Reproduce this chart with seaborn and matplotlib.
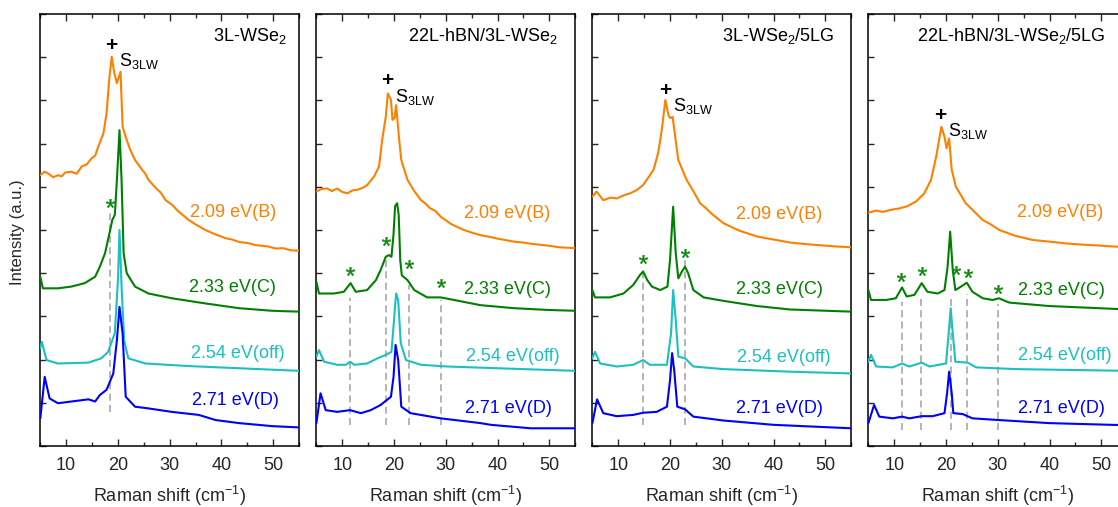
import matplotlib
matplotlib.use("Agg")
import matplotlib.pyplot as plt
import numpy as np
import pandas as pd
import seaborn as sns
from matplotlib.ticker import MultipleLocator

sns.set_style("ticks")
plt.rcParams["font.family"] = ["Liberation Sans", "DejaVu Sans"]
plt.rcParams["mathtext.default"] = "regular"

# ---------------- data ----------------
panel_titles = ["3L-WSe$_2$", "22L-hBN/3L-WSe$_2$", "3L-WSe$_2$/5LG", "22L-hBN/3L-WSe$_2$/5LG"]
series_labels = ["2.09 eV(B)", "2.33 eV(C)", "2.54 eV(off)", "2.71 eV(D)"]
peak_label = "S$_{3LW}$"
x_ticks = [10, 20, 30, 40, 50]

# panel 1 : 3L-WSe2
p1_B_x = [5.0, 5.8, 6.5, 7.5, 8.4, 9.1, 9.8, 11.0, 12.0, 13.0, 14.0, 14.9, 15.6, 16.2, 17.2, 17.8, 18.3, 18.8, 19.3, 19.8, 20.5, 20.9, 21.7, 22.4, 23.3, 24.5, 25.3, 25.9, 27.5, 28.3, 29.2, 30.5, 31.5, 33.7, 35.0, 36.9, 38.8, 40.8, 42.0, 43.5, 45.0, 46.6, 49.0, 50.5, 51.8, 53.5, 55.0]
p1_B_y = [6.27, 6.35, 6.31, 6.22, 6.27, 6.24, 6.33, 6.35, 6.30, 6.47, 6.52, 6.66, 6.72, 6.93, 7.24, 7.70, 8.47, 9.01, 8.63, 8.40, 8.66, 7.39, 7.08, 6.85, 6.62, 6.42, 6.30, 6.16, 5.95, 5.86, 5.69, 5.58, 5.45, 5.23, 5.13, 5.00, 4.90, 4.81, 4.78, 4.72, 4.70, 4.65, 4.62, 4.57, 4.58, 4.53, 4.52]
p1_C_x = [5.0, 5.5, 8.4, 11.0, 13.6, 15.6, 16.5, 17.5, 18.5, 18.9, 19.4, 19.8, 20.3, 20.7, 21.1, 21.7, 23.3, 25.9, 30.4, 36.9, 43.4, 49.8, 55.0]
p1_C_y = [3.92, 3.65, 3.65, 3.69, 3.77, 3.92, 4.15, 4.46, 5.00, 5.23, 5.35, 6.16, 7.31, 6.16, 4.46, 4.00, 3.69, 3.53, 3.42, 3.30, 3.19, 3.13, 3.11]
p1_off_x = [5.0, 5.3, 6.2, 8.4, 14.3, 16.8, 18.1, 19.4, 20.0, 20.3, 20.7, 21.2, 22.0, 25.3, 33.7, 43.4, 55.0]
p1_off_y = [2.26, 2.41, 1.99, 1.91, 1.93, 2.03, 2.18, 2.61, 3.84, 5.00, 3.69, 2.45, 2.03, 1.91, 1.85, 1.80, 1.74]
p1_D_x = [5.0, 5.85, 6.8, 8.4, 11.0, 14.3, 15.6, 16.5, 17.8, 19.1, 19.8, 20.3, 20.9, 21.5, 23.3, 25.9, 30.4, 35.6, 38.9, 43.4, 49.8, 55.0]
p1_D_y = [0.64, 1.60, 1.10, 0.99, 1.03, 1.08, 1.03, 1.18, 1.30, 1.68, 2.45, 3.22, 2.61, 1.14, 0.91, 0.87, 0.79, 0.72, 0.60, 0.53, 0.46, 0.43]

# panel 2 : 22L-hBN/3L-WSe2
p2_B_x = [5.0, 6.0, 7.1, 8.0, 9.0, 10.0, 11.0, 12.0, 12.9, 14.0, 14.8, 16.1, 17.1, 17.7, 18.4, 18.8, 19.4, 19.7, 20.1, 20.4, 21.0, 21.4, 22.6, 23.8, 25.2, 26.0, 27.0, 28.0, 29.0, 31.0, 32.2, 33.5, 35.0, 36.7, 38.5, 40.0, 43.2, 45.0, 46.5, 49.6, 52.0, 55.0]
p2_B_y = [5.89, 5.95, 5.96, 5.90, 5.96, 5.88, 5.85, 5.92, 5.93, 5.98, 6.04, 6.23, 6.47, 7.08, 7.62, 8.16, 8.01, 7.55, 7.59, 7.89, 7.08, 6.62, 6.16, 5.92, 5.69, 5.62, 5.50, 5.44, 5.31, 5.14, 5.07, 5.00, 4.94, 4.88, 4.84, 4.80, 4.73, 4.71, 4.68, 4.64, 4.60, 4.58]
p2_C_x = [5.0, 5.5, 8.4, 10.3, 11.6, 12.6, 14.8, 16.5, 17.4, 18.4, 19.0, 19.5, 19.9, 20.2, 20.6, 20.9, 21.2, 21.5, 22.6, 23.9, 26.4, 29.0, 31.6, 36.7, 43.2, 49.6, 55.0]
p2_C_y = [3.80, 3.53, 3.53, 3.57, 3.77, 3.57, 3.61, 3.84, 4.07, 4.38, 4.42, 4.38, 4.90, 5.55, 5.62, 5.35, 4.30, 3.95, 3.84, 3.61, 3.44, 3.44, 3.38, 3.26, 3.19, 3.15, 3.13]
p2_off_x = [5.0, 5.5, 6.5, 9.0, 10.7, 11.5, 12.3, 14.8, 16.8, 18.4, 19.5, 20.0, 20.4, 20.8, 21.3, 22.3, 25.2, 30.3, 40.0, 55.0]
p2_off_y = [2.07, 2.22, 1.95, 1.88, 1.88, 1.95, 1.88, 1.91, 2.03, 2.11, 2.18, 2.92, 3.53, 3.38, 2.38, 1.99, 1.88, 1.84, 1.80, 1.74]
p2_D_x = [5.0, 5.8, 6.8, 9.0, 11.5, 13.6, 15.5, 17.4, 19.4, 19.9, 20.3, 20.8, 21.4, 23.2, 29.0, 36.7, 38.7, 46.4, 55.0]
p2_D_y = [0.53, 1.22, 0.83, 0.79, 0.83, 0.76, 0.83, 0.95, 1.14, 1.60, 2.34, 1.99, 0.91, 0.76, 0.64, 0.53, 0.49, 0.41, 0.41]

# panel 3 : 3L-WSe2/5LG
p3_B_x = [5.0, 5.8, 7.1, 8.5, 9.7, 11.0, 12.3, 13.5, 14.8, 16.8, 17.7, 18.4, 19.1, 19.7, 20.0, 20.5, 21.0, 21.6, 23.2, 24.5, 25.8, 27.0, 28.0, 30.3, 32.0, 33.5, 36.8, 38.5, 40.0, 43.2, 46.5, 49.7, 52.0, 55.0]
p3_B_y = [5.77, 5.89, 5.69, 5.75, 5.73, 5.80, 5.85, 5.92, 6.04, 6.39, 6.78, 7.31, 8.01, 7.66, 7.59, 7.62, 7.16, 6.62, 6.16, 5.90, 5.62, 5.50, 5.38, 5.16, 5.06, 4.98, 4.85, 4.81, 4.78, 4.71, 4.67, 4.64, 4.62, 4.60]
p3_C_x = [5.0, 5.5, 8.4, 11.0, 12.9, 14.2, 14.8, 15.6, 16.5, 18.1, 19.5, 20.0, 20.6, 21.1, 21.6, 22.3, 22.9, 23.5, 24.5, 26.5, 30.3, 36.8, 43.2, 55.0]
p3_C_y = [3.61, 3.44, 3.44, 3.53, 3.73, 3.96, 4.04, 3.84, 3.69, 3.61, 3.69, 4.31, 5.54, 4.46, 3.88, 4.04, 4.15, 4.00, 3.61, 3.44, 3.36, 3.24, 3.16, 3.11]
p3_off_x = [5.0, 5.5, 6.5, 9.7, 12.9, 14.8, 16.1, 19.4, 20.2, 20.6, 21.1, 21.6, 22.9, 24.5, 30.3, 43.2, 55.0]
p3_off_y = [2.03, 2.18, 1.91, 1.84, 1.88, 1.99, 1.88, 1.88, 2.61, 3.61, 2.92, 2.07, 2.03, 1.84, 1.78, 1.72, 1.68]
p3_D_x = [5.0, 5.9, 7.1, 9.7, 12.9, 14.8, 17.4, 19.4, 20.0, 20.4, 20.8, 21.4, 22.9, 24.5, 30.3, 40.0, 55.0]
p3_D_y = [0.53, 1.08, 0.76, 0.69, 0.72, 0.77, 0.79, 0.91, 1.53, 2.15, 1.76, 0.91, 0.85, 0.68, 0.59, 0.49, 0.41]

# panel 4 : 22L-hBN/3L-WSe2/5LG
p4_B_x = [5.0, 6.5, 7.8, 9.5, 11.0, 12.5, 14.2, 15.8, 17.1, 18.1, 19.1, 19.7, 20.1, 20.6, 21.1, 21.9, 23.0, 23.8, 25.5, 27.1, 28.5, 30.3, 33.5, 35.0, 36.7, 40.0, 43.1, 46.5, 49.6, 52.0, 55.0]
p4_B_y = [5.40, 5.45, 5.42, 5.47, 5.50, 5.55, 5.66, 5.85, 6.16, 6.70, 7.39, 7.16, 6.89, 7.12, 6.39, 6.00, 5.78, 5.62, 5.42, 5.23, 5.14, 5.00, 4.86, 4.82, 4.77, 4.73, 4.69, 4.66, 4.64, 4.62, 4.60]
p4_C_x = [5.0, 5.5, 8.4, 10.3, 11.5, 12.4, 13.9, 15.3, 16.4, 18.4, 19.7, 20.3, 20.8, 21.3, 21.8, 22.9, 24.0, 25.1, 27.1, 29.0, 30.2, 32.2, 39.9, 49.6, 55.0]
p4_C_y = [3.61, 3.38, 3.38, 3.42, 3.67, 3.46, 3.50, 3.77, 3.57, 3.53, 3.61, 4.15, 4.96, 4.07, 3.61, 3.69, 3.78, 3.57, 3.42, 3.38, 3.42, 3.32, 3.24, 3.19, 3.16]
p4_off_x = [5.0, 5.5, 6.5, 9.7, 11.5, 12.9, 15.3, 16.8, 20.0, 20.5, 20.9, 21.3, 21.8, 24.2, 25.8, 33.5, 55.0]
p4_off_y = [1.95, 2.11, 1.84, 1.82, 1.91, 1.84, 1.93, 1.84, 1.91, 2.61, 3.19, 2.61, 1.95, 1.93, 1.82, 1.78, 1.74]
p4_D_x = [5.0, 6.1, 7.1, 9.7, 11.5, 12.9, 15.3, 17.4, 19.7, 20.2, 20.6, 21.1, 21.4, 23.2, 25.1, 30.3, 39.9, 55.0]
p4_D_y = [0.53, 0.95, 0.68, 0.64, 0.68, 0.64, 0.69, 0.69, 0.76, 1.22, 1.72, 1.22, 0.76, 0.74, 0.64, 0.60, 0.53, 0.48]

# asterisk-marked modes (x position, height) and dashed guide lines
p1_star_x = [18.5]
p1_star_y = [5.62]
p2_star_x = [11.5, 18.4, 22.9, 29.0]
p2_star_y = [4.04, 4.75, 4.21, 3.77]
p3_star_x = [14.7, 22.9]
p3_star_y = [4.32, 4.47]
p4_star_x = [11.3, 15.3, 22.0, 24.2, 30.1]
p4_star_y = [3.92, 4.04, 4.07, 4.01, 3.63]

p1_dash_x = [18.5]
p1_dash_top = [5.46]
p2_dash_x = [11.5, 18.4, 22.9, 29.0]
p2_dash_top = [3.42, 4.35, 3.73, 3.38]
p3_dash_x = [14.7, 22.9]
p3_dash_top = [4.00, 4.30]
p4_dash_x = [11.4, 15.2, 20.9, 24.0, 30.0]
p4_dash_top = [3.34, 3.44, 3.46, 3.53, 3.28]
dash_bottom = [0.79, 0.48, 0.49, 0.37]

# "+" / S3LW marker position (x, y) per panel
plus_x = [18.7, 18.6, 19.0, 18.8]
plus_y = [9.28, 8.46, 8.24, 7.66]

# ---------------- styling ----------------
colors = {"B": "#FF8000", "C": "#008000", "off": "#1CC0C0", "D": "#0000FF"}
star_color = "#0A8A0A"

panels = [
    dict(B=(p1_B_x, p1_B_y), C=(p1_C_x, p1_C_y), off=(p1_off_x, p1_off_y), D=(p1_D_x, p1_D_y),
         sx=p1_star_x, sy=p1_star_y, dx=p1_dash_x, dt=p1_dash_top),
    dict(B=(p2_B_x, p2_B_y), C=(p2_C_x, p2_C_y), off=(p2_off_x, p2_off_y), D=(p2_D_x, p2_D_y),
         sx=p2_star_x, sy=p2_star_y, dx=p2_dash_x, dt=p2_dash_top),
    dict(B=(p3_B_x, p3_B_y), C=(p3_C_x, p3_C_y), off=(p3_off_x, p3_off_y), D=(p3_D_x, p3_D_y),
         sx=p3_star_x, sy=p3_star_y, dx=p3_dash_x, dt=p3_dash_top),
    dict(B=(p4_B_x, p4_B_y), C=(p4_C_x, p4_C_y), off=(p4_off_x, p4_off_y), D=(p4_D_x, p4_D_y),
         sx=p4_star_x, sy=p4_star_y, dx=p4_dash_x, dt=p4_dash_top),
]

# label anchors (right edge x, centre y) for each series, per panel
label_pos = [
    [(50.6, 5.41), (50.6, 3.66), (52.3, 2.15), (51.0, 1.06)],
    [(50.1, 5.39), (50.3, 3.63), (51.9, 2.08), (50.4, 0.87)],
    [(49.4, 5.37), (49.5, 3.63), (51.0, 2.04), (49.5, 0.87)],
    [(50.3, 5.40), (50.6, 3.61), (52.0, 2.09), (50.6, 0.87)],
]
title_x = [52.5, 51.7, 51.7, 50.7]

W, H = 1118, 507
fig = plt.figure(figsize=(W / 100, H / 100), dpi=100)
left_px = [40.3, 316.4, 592.4, 868.4]
ax_w, ax_b, ax_h = 258.8, 61, 432
fs = 13

keys = ["B", "C", "off", "D"]
for i, pdat in enumerate(panels):
    ax = fig.add_axes([left_px[i] / W, ax_b / H, ax_w / W, ax_h / H])
    frames = []
    for k in keys:
        xs, ys = pdat[k]
        frames.append(pd.DataFrame({"x": xs, "y": ys, "s": k}))
    df = pd.concat(frames, ignore_index=True)
    # dashed guides first (behind curves)
    for xd, yt in zip(pdat["dx"], pdat["dt"]):
        ax.plot([xd, xd], [dash_bottom[i], yt], color="#B4B4B4", lw=1.4,
                dashes=(3.6, 2.2), zorder=1)
    sns.lineplot(data=df, x="x", y="y", hue="s", palette=colors, hue_order=keys,
                 sort=False, estimator=None, lw=1.5, legend=False, ax=ax, zorder=3)
    sns.scatterplot(x=pdat["sx"], y=pdat["sy"], marker="$*$", s=40, color=star_color,
                    linewidth=0.3, edgecolor=star_color, ax=ax, zorder=4)
    # + and S3LW
    ax.text(plus_x[i], plus_y[i], "+", ha="center", va="center", fontsize=15,
            fontweight="bold", color="black")
    ax.text(plus_x[i] + 1.6, plus_y[i] - 0.37, peak_label, ha="left", va="center",
            fontsize=fs, color="black")
    for (lx, ly), lab, k in zip(label_pos[i], series_labels, keys):
        ax.text(lx, ly, lab, ha="right", va="center", fontsize=fs, color=colors[k])
    ax.text(title_x[i], 9.49, panel_titles[i], ha="right", va="center", fontsize=fs,
            color="black")

    ax.set_xlim(5, 55)
    ax.set_ylim(0, 10)
    ax.xaxis.set_major_locator(plt.FixedLocator(x_ticks))
    ax.xaxis.set_minor_locator(MultipleLocator(5))
    ax.yaxis.set_major_locator(MultipleLocator(1))
    ax.set_yticklabels([])
    ax.tick_params(axis="x", which="major", direction="in", length=5, width=1,
                   top=True, labelsize=fs, pad=8)
    ax.tick_params(axis="x", which="minor", direction="in", length=3, width=1, top=True)
    ax.tick_params(axis="y", which="major", direction="in", length=4, width=1,
                   left=True, right=False)
    for sp in ax.spines.values():
        sp.set_linewidth(1.1)
        sp.set_color("black")
    ax.set_xlabel("Raman shift (cm$^{-1}$)", fontsize=fs, labelpad=7)
    ax.set_ylabel("")

fig.text(18 / W, 1 - 232 / H, "Intensity (a.u.)", rotation=90, ha="center",
         va="center", fontsize=12)

fig.savefig("out.png", dpi=100)
